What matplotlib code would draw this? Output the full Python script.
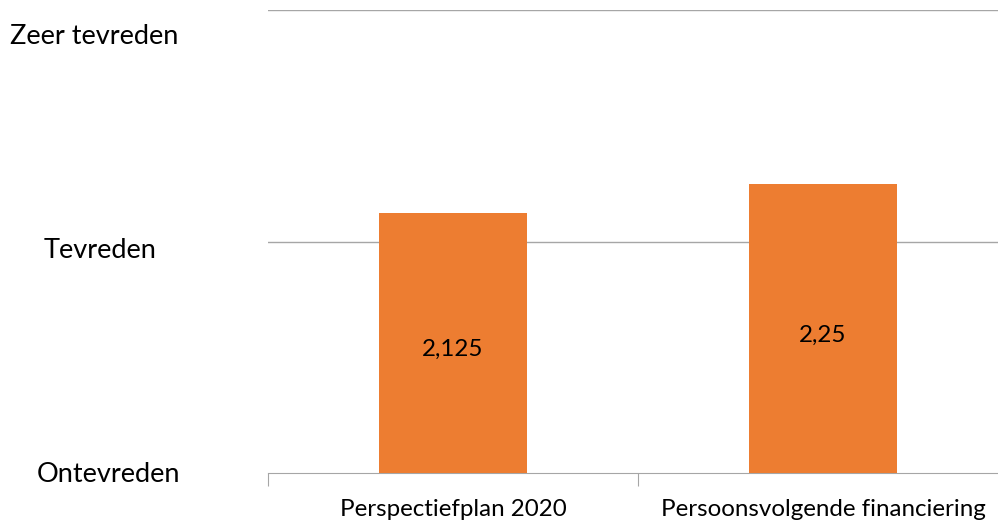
import matplotlib.pyplot as plt

categories = ['Perspectiefplan 2020', 'Persoonsvolgende financiering']
scores = [2.125, 2.25]
score_labels = ['2,125', '2,25']
level_values = [1, 2, 3]
level_names = ['Ontevreden', 'Tevreden', 'Zeer tevreden']

plt.rcParams['font.family'] = ['Lato', 'DejaVu Sans']

fig = plt.figure(figsize=(9.98, 5.21), dpi=100)
ax = fig.add_axes([268 / 998, 48 / 521, 740 / 998, 463 / 521])

x = range(len(categories))
ax.bar(x, scores, width=0.4, color='#ED7D31', zorder=3)
ax.set_xlim(-0.5, len(categories) - 0.5)
ax.set_ylim(1, 3)

# gridlines at the levels
for v in level_values[1:]:
    ax.axhline(v, color='#A6A6A6', lw=1, zorder=1)

# value labels in the middle of the bars
for i, (s, lab) in enumerate(zip(scores, score_labels)):
    ax.annotate(lab, xy=(i, (1 + s) / 2), xytext=(0, -7), textcoords='offset pixels',
                ha='center', va='center', fontsize=17.4, color='black', zorder=4)

# level labels on the left
offsets = [(108, -2), (100, -9), (94, -27)]
for v, name, (px, dy) in zip(level_values, level_names, offsets):
    ax.annotate(name, xy=(px / 998, v), xycoords=(fig.transFigure, ax.transData),
                xytext=(0, dy), textcoords='offset pixels',
                ha='center', va='center', fontsize=19.5, color='black')

for sp in ['top', 'right', 'left']:
    ax.spines[sp].set_visible(False)
ax.spines['bottom'].set_color('#A6A6A6')
ax.set_yticks([])
ax.set_xticks([-0.5, 0.5, 1.5])
ax.set_xticklabels(['', '', ''])
ax.tick_params(axis='x', length=9, color='#A6A6A6')
for i, c in enumerate(categories):
    ax.annotate(c, xy=(i, 1), xytext=(0, -36), textcoords='offset pixels',
                ha='center', va='center', fontsize=17.4, color='black', annotation_clip=False)

fig.savefig('out.png', dpi=100)
